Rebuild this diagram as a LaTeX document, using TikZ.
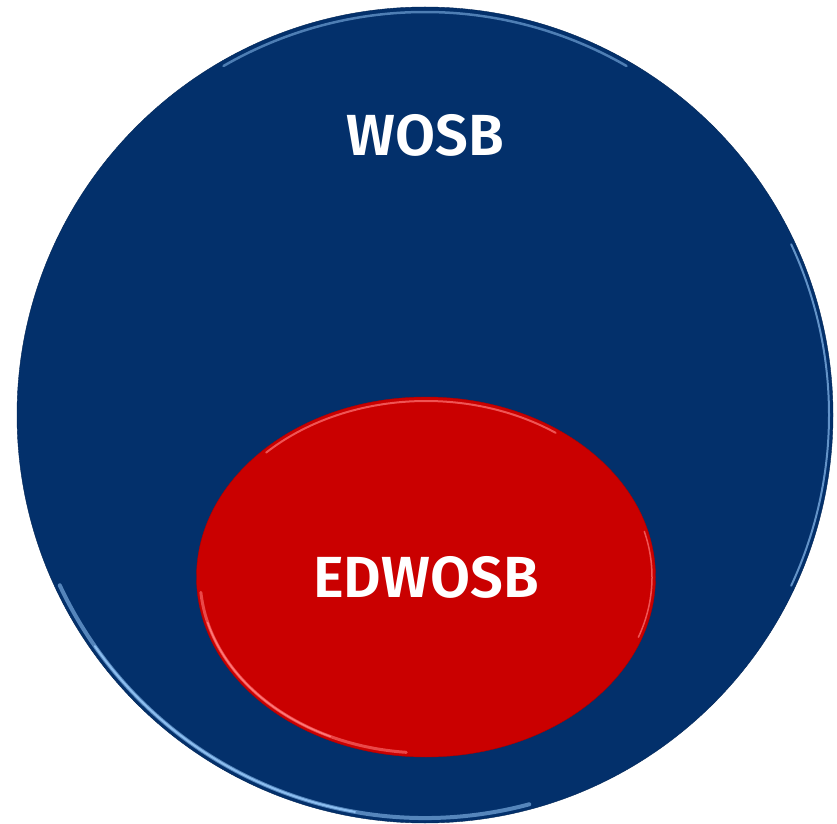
\documentclass[tikz,border=0pt]{standalone}
\usepackage{fontspec}
\setmainfont{Fira Sans}[BoldFont={Fira Sans SemiBold}]
\usepackage{tikz}
\usetikzlibrary{shapes,positioning}
\definecolor{wosbblue}{RGB}{3,48,107}
\definecolor{wosbrim}{RGB}{140,190,240}
\definecolor{edred}{RGB}{202,0,0}
\definecolor{edrim}{RGB}{255,120,120}
\tikzstyle{outer}=[ellipse, fill=wosbblue, draw=wosbblue!80!black, minimum width=816pt, minimum height=816pt, inner sep=0pt]
\tikzstyle{inner}=[ellipse, fill=edred, draw=edred!85!black, minimum width=459pt, minimum height=360pt, inner sep=0pt]
\tikzstyle{lbl}=[text=white, inner sep=0pt, font=\fontsize{58}{62}\selectfont\bfseries]
\begin{document}
\begin{tikzpicture}[x=1pt, y=1pt]
    \useasboundingbox (0,0) rectangle (837,823);
    % outer set
    \node [outer] (wosb) at (425,408) {};
    \draw [wosbrim!60!wosbblue, line width=4pt, line cap=round] ([shift={(205:403)}]wosb.center) arc (205:285:403);
    \draw [wosbrim, line width=2pt, line cap=round] ([shift={(215:403)}]wosb.center) arc (215:260:403);
    \draw [wosbrim!55!wosbblue, line width=2.5pt, line cap=round] ([shift={(60:403)}]wosb.center) arc (60:120:403);
    \draw [wosbrim!70!wosbblue, line width=2pt, line cap=round] ([shift={(-25:404)}]wosb.center) arc (-25:25:404);
    \node [lbl] (wosbtext) at (425,688) {WOSB};
    % inner set
    \node [inner, lbl] (edwosb) at (426,246) {EDWOSB};
    \draw [edrim!60!edred, line width=3pt, line cap=round] ([shift={(185:226 and 176)}]edwosb.center) arc (185:265:226 and 176);
    \draw [edrim, line width=1.5pt, line cap=round] ([shift={(195:226 and 176)}]edwosb.center) arc (195:245:226 and 176);
    \draw [edrim!70!edred, line width=2pt, line cap=round] ([shift={(55:226 and 176)}]edwosb.center) arc (55:135:226 and 176);
    \draw [edrim!70!edred, line width=1.5pt, line cap=round] ([shift={(-20:226 and 176)}]edwosb.center) arc (-20:15:226 and 176);
\end{tikzpicture}
\end{document}
